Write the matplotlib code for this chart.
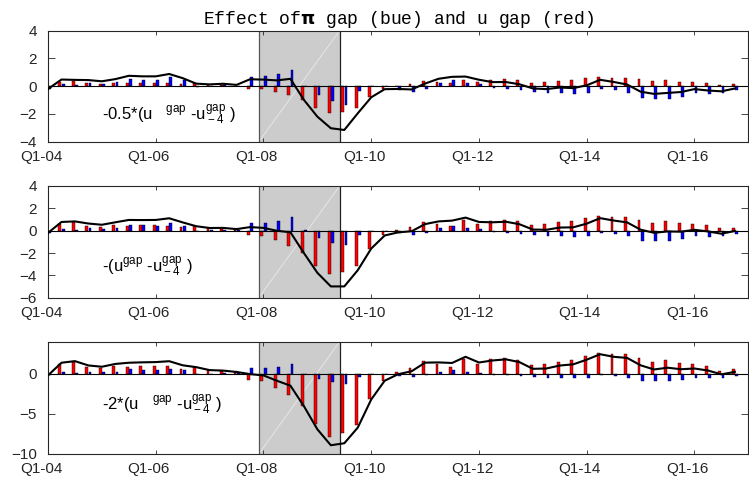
import numpy as np
import matplotlib.pyplot as plt
import matplotlib.transforms as mtransforms

# fonts: Arial-like for axes, Courier-like for the title
plt.rcParams['font.family'] = ['Liberation Sans', 'DejaVu Sans']
plt.rcParams['mathtext.fontset'] = 'custom'
plt.rcParams['mathtext.rm'] = 'Liberation Sans'
plt.rcParams['mathtext.it'] = 'Liberation Sans:italic'
plt.rcParams['mathtext.bf'] = 'DejaVu Sans:bold'

# quarterly data Q1-04 .. Q4-16
quarters = np.arange(52)
tick_pos = [0, 8, 16, 24, 32, 40, 48]
tick_labels = ['Q1-04', 'Q1-06', 'Q1-08', 'Q1-10', 'Q1-12', 'Q1-14', 'Q1-16']

# -(u gap - u gap_-4), red bars (scaled by the coefficient in each panel)
u_gap_change = [0.0, 0.6, 0.75, 0.4, 0.35, 0.48, 0.42, 0.48, 0.5, 0.46, 0.32, 0.43,
                0.22, 0.15, 0.09, -0.36, -0.45, -0.86, -1.34, -2.03, -3.15, -3.92,
                -3.67, -3.17, -1.6, -0.43, 0.1, 0.37, 0.8, 0.59, 0.45, 0.95, 0.63,
                0.91, 1.0, 0.88, 0.52, 0.58, 0.75, 0.88, 1.13, 1.32, 1.21, 1.24,
                0.97, 0.73, 0.83, 0.66, 0.58, 0.48, 0.2, 0.27]

# pi gap effect, blue bars (same in every panel)
pi_gap_effect = [-0.2, 0.18, 0.08, 0.24, 0.18, 0.27, 0.54, 0.47, 0.46, 0.65, 0.42, -0.03,
                 0.02, 0.1, 0.05, 0.68, 0.7, 0.85, 1.2, 0.03, -0.62, -1.07, -1.32,
                 -0.37, 0.0, 0.0, -0.25, -0.42, -0.21, 0.24, 0.45, 0.22, 0.15, -0.16,
                 -0.2, -0.3, -0.42, -0.5, -0.47, -0.58, -0.5, -0.2, -0.3, -0.5, -0.88,
                 -0.92, -0.9, -0.75, -0.5, -0.55, -0.47, -0.3]

coefs = [0.5, 1.0, 2.0]
panel_text = [r'-0.5*(u$\quad{}^{\rm gap}$ -u$^{\rm gap}_{\rm -4}$ )',
              r'-(u$^{\rm gap}$ -u$^{\rm gap}_{\rm -4}$ )',
              r'-2*(u$\quad{}^{\rm gap}$ -u$^{\rm gap}_{\rm -4}$ )']
text_y = [-2.4, -3.67, -4.5]
ylims = [(-4, 4), (-6, 4), (-10, 4)]
yticks = [[-4, -2, 0, 2, 4], [-6, -4, -2, 0, 2, 4], [-10, -5, 0]]

rec_start, rec_end = 15.65, 21.65

red = np.array(u_gap_change)
blue = np.array(pi_gap_effect)

fig = plt.figure(figsize=(7.49, 4.79), dpi=100)
boxes = [[0.0641, 0.7042, 0.935, 0.2317],
         [0.0641, 0.3785, 0.935, 0.2332],
         [0.0641, 0.0522, 0.935, 0.2344]]

axcol = '#262626'
shift = mtransforms.ScaledTranslation(-0.07, 0, fig.dpi_scale_trans)

for p in range(3):
    ax = fig.add_axes(boxes[p])
    lo, hi = ylims[p]
    # recession shading
    ax.axvspan(rec_start, rec_end, facecolor='#cccccc', edgecolor='none', zorder=0)
    ax.plot([rec_start, rec_end], [lo, hi], color='white', lw=0.5, alpha=0.7, zorder=0.5)
    ax.axvline(rec_start, color='#555555', lw=0.9, zorder=0.6)
    ax.axvline(rec_end, color='#222222', lw=0.9, zorder=0.6)

    k = coefs[p]
    ax.bar(quarters - 0.12, k * red, width=0.21, color='#ff0000', edgecolor='black', lw=0.3, zorder=2)
    ax.bar(quarters + 0.12, blue, width=0.21, color='#0000ff', edgecolor='black', lw=0.3, zorder=2)
    ax.axhline(0, color='black', lw=0.8, zorder=2.5)
    ax.plot(quarters, k * red + blue, color='black', lw=1.5, zorder=3)

    ax.text(4.0, text_y[p], panel_text[p], fontsize=12, ha='left', va='baseline', color='black')

    ax.set_xlim(0, 52)
    ax.set_ylim(lo, hi)
    ax.set_xticks(tick_pos)
    ax.set_xticklabels(tick_labels)
    ax.set_yticks(yticks[p])
    ax.tick_params(axis='x', direction='in', length=3.2, width=0.6, top=True, pad=6,
                   labelsize=11, colors=axcol)
    ax.tick_params(axis='y', direction='in', length=5, width=0.6, right=True, pad=8,
                   labelsize=11, colors=axcol)
    for lab in ax.get_xticklabels():
        lab.set_transform(lab.get_transform() + shift)
    for s in ax.spines.values():
        s.set_color(axcol)
        s.set_linewidth(0.8)

    if p == 0:
        ax.set_title(r'Effect of$\mathbf{\pi}$ gap (bue) and u gap (red)',
                     family='Liberation Mono', fontsize=13, pad=4.8, color='black')

fig.savefig('out.png', dpi=100)
